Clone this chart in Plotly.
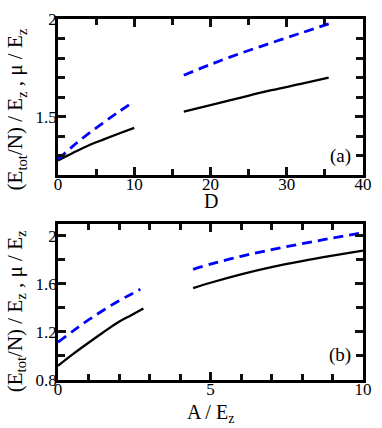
import plotly.graph_objects as go
from plotly.subplots import make_subplots

# panel (a): energies vs D
d_low = [0, 2, 4, 6, 8, 10]
e_low = [1.275, 1.315, 1.352, 1.383, 1.413, 1.442]
mu_low = [1.28, 1.35, 1.413, 1.47, 1.525, 1.578]
d_high = [16.5, 20, 24, 28, 32, 35.5]
e_high = [1.525, 1.558, 1.597, 1.635, 1.669, 1.700]
mu_high = [1.712, 1.767, 1.825, 1.878, 1.93, 1.975]

# panel (b): energies vs A / E_z
a_low = [0, 0.5, 1, 1.5, 2, 2.4, 2.8]
eb_low = [0.918, 1.017, 1.11, 1.2, 1.285, 1.34, 1.395]
a_low_mu = [0, 0.5, 1, 1.5, 2, 2.4, 2.7]
mub_low = [1.115, 1.21, 1.30, 1.383, 1.46, 1.515, 1.555]
a_high = [4.43, 5, 6, 7, 8, 9, 10]
eb_high = [1.565, 1.61, 1.68, 1.74, 1.79, 1.835, 1.877]
mub_high = [1.722, 1.765, 1.83, 1.885, 1.935, 1.982, 2.028]

FONT = "Liberation Serif"
COR_TICK = "#111111"
fig = make_subplots(rows=2, cols=1)

def add(x, y, row, azul):
    if azul:
        linha = dict(color="#0000ff", width=2.8, dash="10px,6px")
    else:
        linha = dict(color="black", width=2.3)
    fig.add_trace(go.Scatter(x=x, y=y, mode="lines", line=linha, line_shape="spline",
                             showlegend=False, hoverinfo="skip"), row=row, col=1)

add(d_low, e_low, 1, False)
add(d_high, e_high, 1, False)
add(d_low, mu_low, 1, True)
add(d_high, mu_high, 1, True)
add(a_low, eb_low, 2, False)
add(a_high, eb_high, 2, False)
add(a_low_mu, mub_low, 2, True)
add(a_high, mub_high, 2, True)

def eixo(menor, len_menor, recuo):
    return dict(showgrid=False, zeroline=False, showline=True, linecolor="black", linewidth=2.5,
                mirror="allticks", ticks="inside", ticklen=8, tickwidth=3, tickcolor=COR_TICK,
                ticklabelstandoff=recuo,
                minor=dict(dtick=menor, ticks="inside", ticklen=len_menor, tickwidth=3,
                           tickcolor=COR_TICK, showgrid=False),
                tickfont=dict(family=FONT, size=17, color="black"))

fig.update_xaxes(eixo(5, 6, -8), range=[0, 40], dtick=10, tick0=0, row=1, col=1)
fig.update_yaxes(eixo(0.1, 7, -5), range=[1.2, 2.0], dtick=0.5, tick0=0, domain=[0.5676, 1],
                 row=1, col=1)
fig.update_xaxes(eixo(1, 6, -8), range=[0, 10], dtick=5, tick0=0, row=2, col=1)
fig.update_yaxes(eixo(0.2, 7, -5), range=[0.8, 2.1], dtick=0.4, tick0=0.8, domain=[0, 0.4324],
                 row=2, col=1)

def texto(t, x, y, xref, yref, tam, angulo=0, xanchor="center"):
    fig.add_annotation(text=t, xref=xref, yref=yref, x=x, y=y, textangle=angulo,
                       showarrow=False, xanchor=xanchor, yanchor="middle",
                       font=dict(family=FONT, size=tam, color="black"))

titulo_y = "(E<sub>tot</sub>/N) / E<sub>z</sub>\u00a0, μ / E<sub>z</sub>"
texto(titulo_y, -0.138, 0.42, "paper", "y domain", 21, -90)
texto(titulo_y, -0.138, 0.44, "paper", "y2 domain", 21, -90)
texto("D", 0.5, 0.497, "paper", "paper", 20)
texto("A / E<sub>z</sub>", 0.5, -0.092, "paper", "paper", 20)
texto("(a)", 0.968, 0.125, "x domain", "y domain", 19, xanchor="right")
texto("(b)", 0.968, 0.1625, "x2 domain", "y2 domain", 19, xanchor="right")

fig.update_layout(width=382, height=428, plot_bgcolor="white", paper_bgcolor="white",
                  margin=dict(l=58, r=12, t=10, b=48))

fig.write_html("out.html", config={"displayModeBar": False},
               post_script="document.body.style.margin='0';")
